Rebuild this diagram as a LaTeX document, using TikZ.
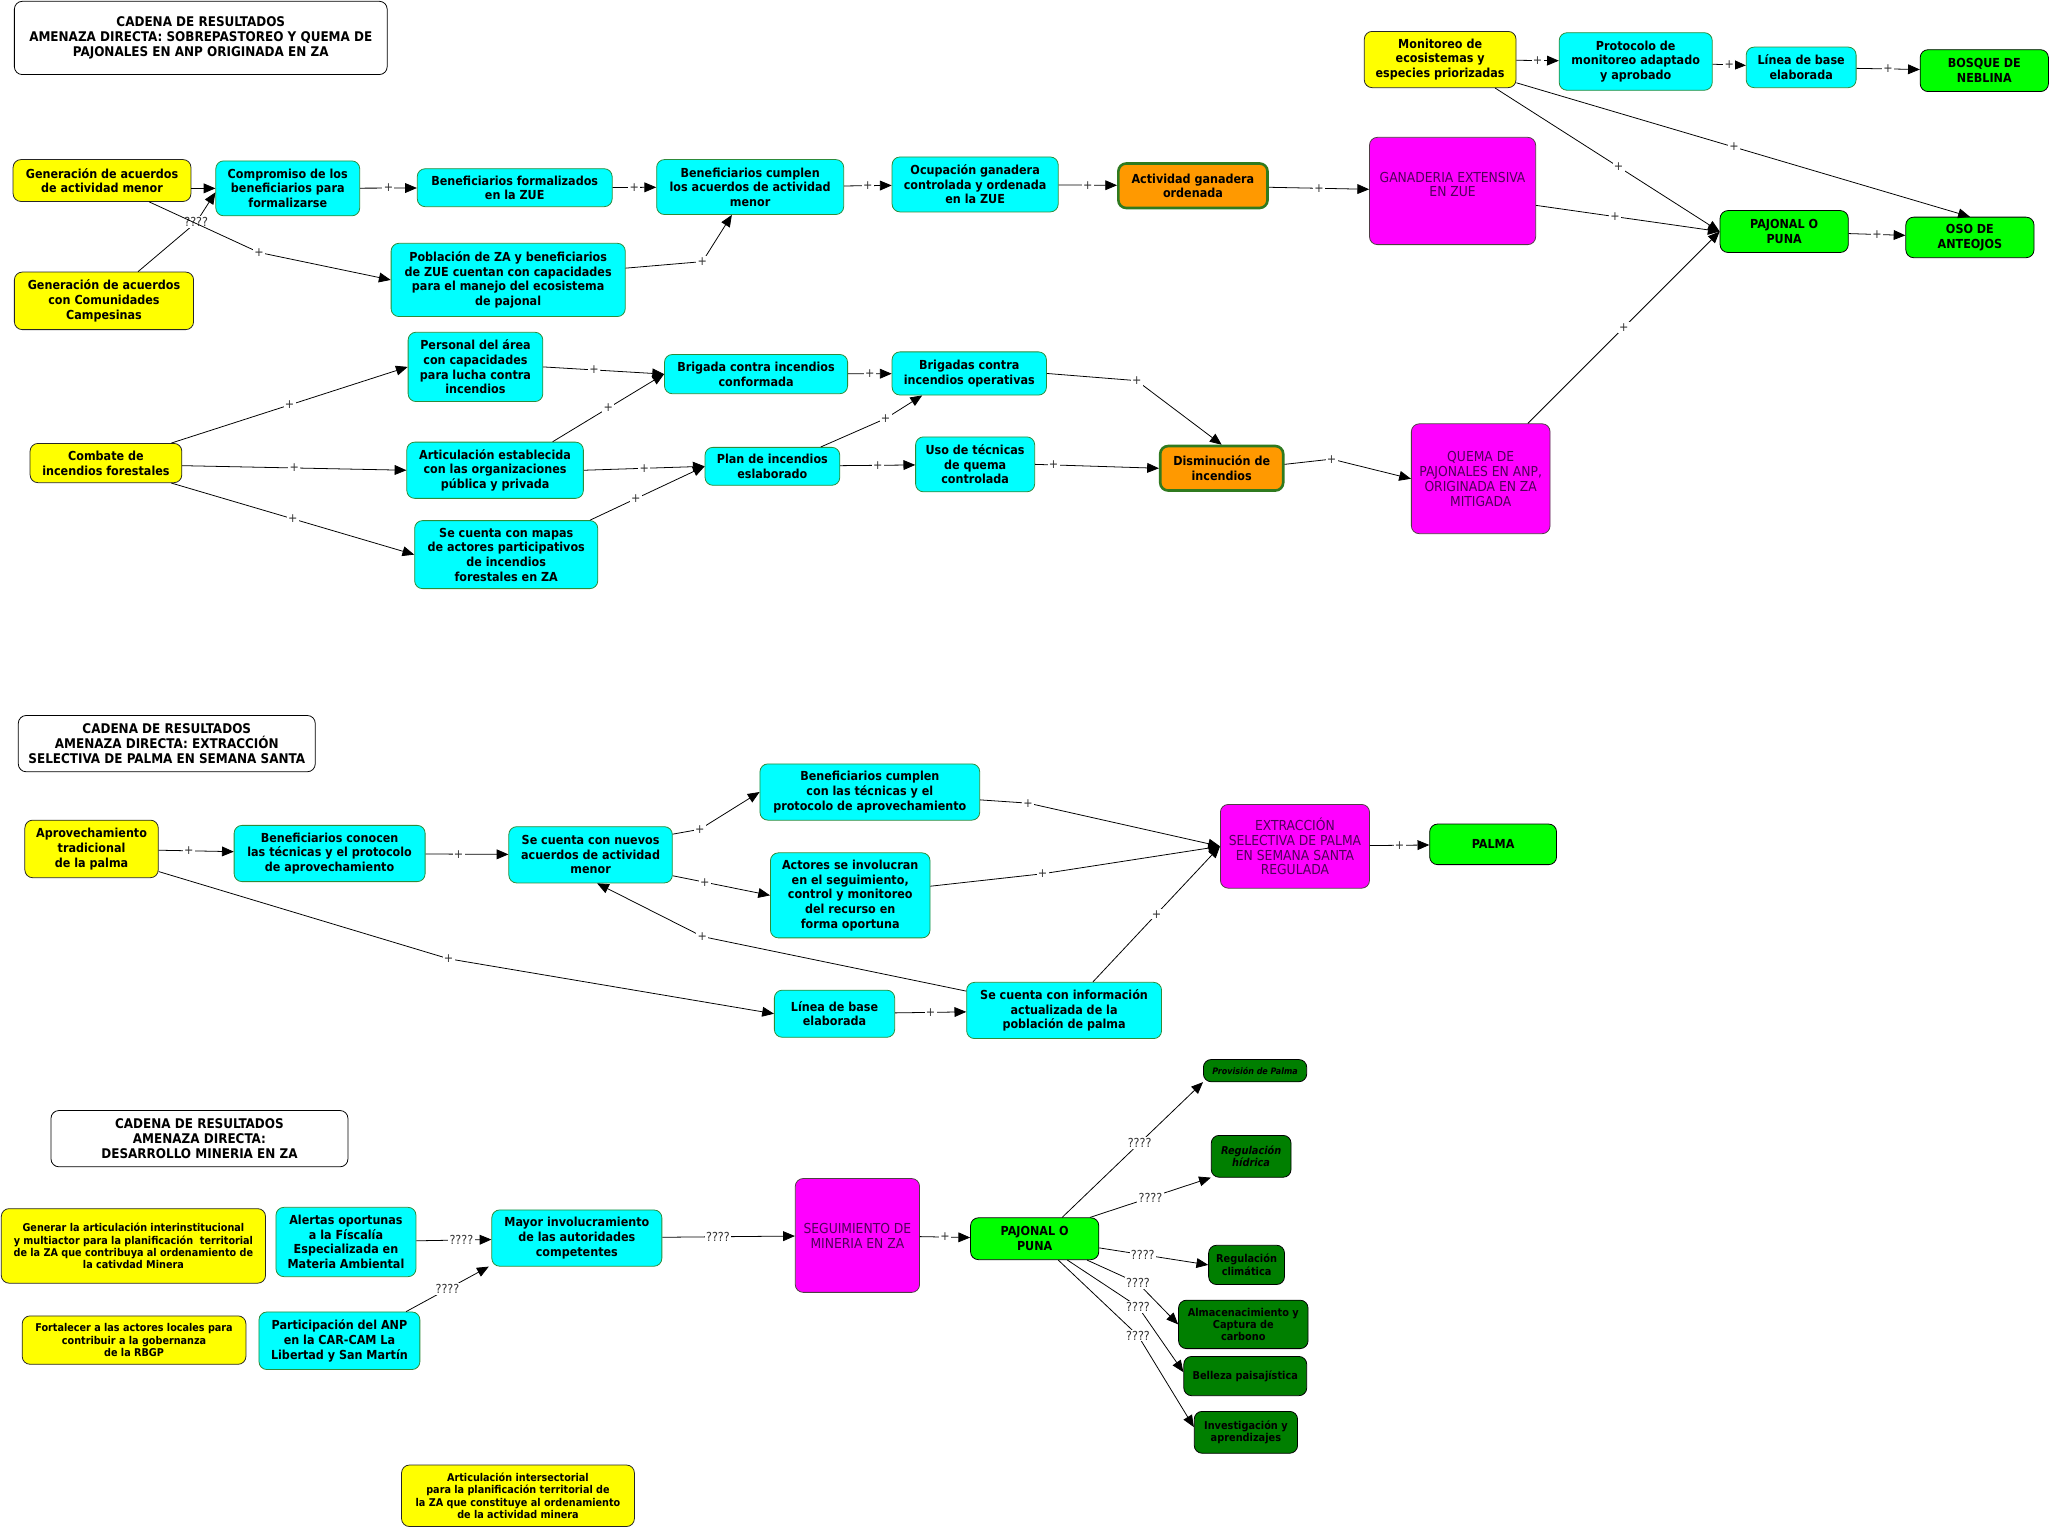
\documentclass[tikz,border=0pt]{standalone}
\usepackage{fontspec}
\setmainfont{DejaVu Sans Condensed}
\usepackage{tikz}
\usetikzlibrary{positioning,arrows.meta}

\definecolor{cyanfill}{HTML}{00FFFF}
\definecolor{cyanline}{HTML}{2E8B3A}
\definecolor{yelfill}{HTML}{FFFF00}
\definecolor{grnfill}{HTML}{00FF00}
\definecolor{dgrnfill}{HTML}{007F00}
\definecolor{orgfill}{HTML}{FF9900}
\definecolor{orgline}{HTML}{2F7A1F}
\definecolor{magfill}{HTML}{FF00FF}
\definecolor{magtext}{HTML}{50005A}

\begin{document}
\begin{tikzpicture}[x=1pt,y=-1pt,
  box/.style={rectangle,draw,rounded corners=6pt,line width=0.6pt,
              inner sep=1.5pt, align=center,
              font=\bfseries\fontsize{9.5}{11.2}\selectfont},
  ttl/.style={box, fill=white, draw=black,
              font=\bfseries\fontsize{10.2}{11.2}\selectfont},
  yel/.style={box, fill=yelfill, draw=black!85},
  cya/.style={box, fill=cyanfill, draw=cyanline},
  grn/.style={box, fill=grnfill, draw=black},
  dgrn/.style={box, fill=dgrnfill, draw=black,
               font=\bfseries\fontsize{8.3}{9.5}\selectfont},
  org/.style={box, fill=orgfill, draw=orgline, line width=2pt},
  mag/.style={box, fill=magfill, draw=black!80!magenta, text=magtext,
              font=\fontsize{10.5}{11.4}\selectfont},
  small/.style={font=\bfseries\fontsize{8.2}{9.3}\selectfont},
  arr/.style={-{Triangle[length=9pt,width=7.5pt]}, line width=0.6pt},
  lbl/.style={fill=white, inner sep=1pt, text=black!80,
              font=\fontsize{9.5}{10}\selectfont}
]
  \useasboundingbox (0,0) rectangle (1568,1168);

  % sobrepastoreo y quema de pajonales
  \node[ttl, minimum width=285, minimum height=56] (t1) at (153.5,29)
       {CADENA DE RESULTADOS\\AMENAZA DIRECTA: SOBREPASTOREO Y QUEMA DE\\PAJONALES EN ANP ORIGINADA EN ZA};
  \node[yel, minimum width=136, minimum height=32] (acmen) at (78,138) {Generación de acuerdos\\de actividad menor};
  \node[yel, minimum width=137, minimum height=44] (accom) at (79.5,230) {Generación de acuerdos\\con Comunidades\\Campesinas};
  \node[cya, minimum width=110, minimum height=42] (compr) at (220,144) {Compromiso de los\\beneficiarios para\\formalizarse};
  \node[cya, minimum width=149, minimum height=29] (benform) at (393.5,143.5) {Beneficiarios formalizados\\en la ZUE};
  \node[cya, minimum width=179, minimum height=56] (pobza) at (388.5,214) {Población de ZA y beneficiarios\\de ZUE cuentan con capacidades\\para el manejo del ecosistema\\de pajonal};
  \node[cya, minimum width=143, minimum height=42] (bencum) at (573.5,143) {Beneficiarios cumplen\\los acuerdos de actividad\\menor};
  \node[cya, minimum width=127, minimum height=42] (ocup) at (745.5,141) {Ocupación ganadera\\controlada y ordenada\\en la ZUE};
  \node[org, minimum width=114, minimum height=34] (actgan) at (912,142) {Actividad ganadera\\ordenada};
  \node[mag, minimum width=127, minimum height=82, text depth=10pt] (ganext) at (1110.5,146) {GANADERIA EXTENSIVA\\EN ZUE};
  \node[yel, minimum width=116, minimum height=43] (monit) at (1101,45.5) {Monitoreo de\\ecosistemas y\\especies priorizadas};
  \node[cya, minimum width=117, minimum height=44] (protoc) at (1250.5,47) {Protocolo de\\monitoreo adaptado\\y aprobado};
  \node[cya, minimum width=84, minimum height=31] (lbase) at (1377,51.5) {Línea de base\\elaborada};
  \node[grn, minimum width=98, minimum height=32] (bosque) at (1517,54) {BOSQUE DE\\NEBLINA};
  \node[grn, minimum width=98, minimum height=32] (pajon) at (1364,177) {PAJONAL O\\PUNA};
  \node[grn, minimum width=98, minimum height=31] (oso) at (1506,181.5) {OSO DE\\ANTEOJOS};
  \node[mag, minimum width=106, minimum height=84] (quema) at (1132,366) {QUEMA DE\\PAJONALES EN ANP,\\ORIGINADA EN ZA\\MITIGADA};

  \node[yel, minimum width=116, minimum height=30] (combate) at (81,354) {Combate de\\incendios forestales};
  \node[cya, minimum width=103, minimum height=53] (personal) at (363.5,280.5) {Personal del área\\con capacidades\\para lucha contra\\incendios};
  \node[cya, minimum width=135, minimum height=43] (artic) at (378.5,359.5) {Articulación establecida\\con las organizaciones\\pública y privada};
  \node[cya, minimum width=140, minimum height=52] (mapas) at (387,424) {Se cuenta con mapas\\de actores participativos\\de incendios\\forestales en ZA};
  \node[cya, minimum width=140, minimum height=30] (brigconf) at (578,286) {Brigada contra incendios\\conformada};
  \node[cya, minimum width=118, minimum height=33] (brigop) at (741,285.5) {Brigadas contra\\incendios operativas};
  \node[cya, minimum width=103, minimum height=29] (plan) at (590.5,356.5) {Plan de incendios\\eslaborado};
  \node[cya, minimum width=91, minimum height=42] (uso) at (745.5,355) {Uso de técnicas\\de quema\\controlada};
  \node[org, minimum width=94, minimum height=34] (dismin) at (934,358) {Disminución de\\incendios};

  \draw[arr] (acmen.east |- compr) -- (compr);
  \draw[arr] ([xshift=26]accom.north) -- (150,170) node[lbl]{????} -- ([yshift=-3]compr.west);
  \draw[arr] ([xshift=36]acmen.south) -- (198,193) node[lbl]{+} -- (pobza.west);
  \draw[arr] (compr) -- node[lbl]{+} (benform);
  \draw[arr] (benform) -- node[lbl]{+} (bencum);
  \draw[arr] ([yshift=9]pobza.east) -- (537,200) node[lbl]{+} -- ([xshift=-14]bencum.south);
  \draw[arr] (bencum) -- node[lbl]{+} (ocup);
  \draw[arr] (ocup) -- node[lbl]{+} (actgan);
  \draw[arr] (actgan) -- node[lbl]{+} (ganext);
  \draw[arr] ([yshift=-11]ganext.east) -- node[lbl, pos=0.43]{+} (pajon.west);
  \draw[arr] (monit) -- node[lbl]{+} (protoc);
  \draw[arr] (protoc) -- node[lbl]{+} (lbase);
  \draw[arr] (lbase) -- node[lbl]{+} (bosque);
  \draw[arr] ([xshift=42]monit.south) -- node[lbl, pos=0.55]{+} (pajon.west);
  \draw[arr] ([yshift=4]monit.south east) -- node[lbl, pos=0.48]{+} (oso.north);
  \draw[arr] (pajon) -- node[lbl]{+} (oso);
  \draw[arr] ([xshift=36]quema.north) -- node[lbl]{+} (pajon.west);
  \draw[arr] ([yshift=3]dismin.east) -- (1018,351) node[lbl]{+} -- (quema.west);

  \draw[arr] ([xshift=50]combate.north) -- node[lbl]{+} (personal.west);
  \draw[arr] ([yshift=-2]combate.east) -- node[lbl]{+} (artic.west);
  \draw[arr] ([xshift=50]combate.south) -- node[lbl]{+} (mapas.west);
  \draw[arr] (personal.east) -- node[lbl, pos=0.42]{+} (brigconf.west);
  \draw[arr] ([xshift=44]artic.north) -- node[lbl]{+} (brigconf.west);
  \draw[arr] (artic.east) -- node[lbl]{+} (plan.west);
  \draw[arr] ([xshift=64]mapas.north) -- node[lbl, pos=0.4]{+} (plan.west);
  \draw[arr] (brigconf) -- node[lbl]{+} (brigop);
  \draw[arr] ([xshift=37]plan.north) -- (677,320) node[lbl]{+} -- ([xshift=-36]brigop.south);
  \draw[arr] (plan) -- node[lbl]{+} (uso);
  \draw[arr] (brigop.east) -- (869,291) node[lbl]{+} -- (dismin.north);
  \draw[arr] (uso.east) -- node[lbl, pos=0.15]{+} (dismin.west);

  % extraccion selectiva de palma
  \node[ttl, minimum width=227, minimum height=43] (t2) at (127.5,568.5)
       {CADENA DE RESULTADOS\\AMENAZA DIRECTA: EXTRACCIÓN\\SELECTIVA DE PALMA EN SEMANA SANTA};
  \node[yel, minimum width=102, minimum height=44] (aprov) at (70,649) {Aprovechamiento\\tradicional\\de la palma};
  \node[cya, minimum width=146, minimum height=43] (benconoc) at (252,652.5) {Beneficiarios conocen\\las técnicas y el protocolo\\de aprovechamiento};
  \node[cya, minimum width=125, minimum height=43] (nuevos) at (451.5,653.5) {Se cuenta con nuevos\\acuerdos de actividad\\menor};
  \node[cya, minimum width=168, minimum height=43] (bentec) at (665,605.5) {Beneficiarios cumplen\\con las técnicas y el\\protocolo de aprovechamiento};
  \node[cya, minimum width=122, minimum height=65] (actores) at (650,684.5) {Actores se involucran\\en el seguimiento,\\control y monitoreo\\del recurso en\\forma oportuna};
  \node[mag, minimum width=114, minimum height=64] (extrac) at (990,647) {EXTRACCIÓN\\SELECTIVA DE PALMA\\EN SEMANA SANTA\\REGULADA};
  \node[grn, minimum width=97, minimum height=31] (palma) at (1141.5,645.5) {PALMA};
  \node[cya, minimum width=92, minimum height=36] (lbpalma) at (638,775) {Línea de base\\elaborada};
  \node[cya, minimum width=149, minimum height=43] (info) at (813.5,772.5) {Se cuenta con información\\actualizada de la\\población de palma};

  \draw[arr] (aprov) -- node[lbl, pos=0.4]{+} (benconoc);
  \draw[arr] (benconoc) -- node[lbl, pos=0.4]{+} (nuevos);
  \draw[arr] ([yshift=5]aprov.south east) -- (343,733) node[lbl]{+} -- (lbpalma.west);
  \draw[arr] ([yshift=-6]nuevos.north east) -- (535,634) node[lbl]{+} -- (bentec.west);
  \draw[arr] ([yshift=-16]nuevos.east) -- node[lbl, pos=0.33]{+} (actores.west);
  \draw[arr] ([yshift=-7]info.north west) -- (537,716) node[lbl]{+} -- ([xshift=5]nuevos.south);
  \draw[arr] (lbpalma) -- node[lbl]{+} (info);
  \draw[arr] ([yshift=-6]bentec.east) -- (786,614) node[lbl]{+} -- (extrac.west);
  \draw[arr] ([yshift=7]actores.east) -- (797,668) node[lbl]{+} -- (extrac.west);
  \draw[arr] ([xshift=22]info.north) -- node[lbl]{+} (extrac.west);
  \draw[arr] (extrac) -- node[lbl]{+} (palma);

  % desarrollo minero
  \node[ttl, minimum width=227, minimum height=43] (t3) at (152.5,870.5)
       {CADENA DE RESULTADOS\\AMENAZA DIRECTA:\\DESARROLLO MINERIA EN ZA};
  \node[yel, small, minimum width=202, minimum height=57] (generar) at (102,952.5)
       {Generar la articulación interinstitucional\\ y multiactor para la planificación\ \ territorial\\de la ZA que contribuya al ordenamiento de\\la cativdad Minera};
  \node[yel, small, minimum width=171, minimum height=37] (fortal) at (102.5,1024.5)
       {Fortalecer a las actores locales para\\contribuir a la gobernanza\\de la RBGP};
  \node[cya, minimum width=107, minimum height=53] (alertas) at (264.5,949.5) {Alertas oportunas\\a la Físcalía\\Especializada en\\Materia Ambiental};
  \node[cya, minimum width=123, minimum height=44] (partic) at (259.5,1025) {Participación del ANP\\en la CAR-CAM La\\Libertad y San Martín};
  \node[cya, minimum width=130, minimum height=43] (mayor) at (441,946.5) {Mayor involucramiento\\de las autoridades\\competentes};
  \node[yel, small, minimum width=178, minimum height=47] (intersec) at (396,1143.5)
       {Articulación intersectorial\\para la planificación territorial de\\la ZA que constituye al ordenamiento\\de la actividad minera};
  \node[mag, minimum width=95, minimum height=87] (seguim) at (655.5,944.5) {SEGUIMIENTO DE\\MINERIA EN ZA};
  \node[grn, minimum width=98, minimum height=32] (pajpuna) at (791,947) {PAJONAL O\\PUNA};
  \node[dgrn, minimum width=79, minimum height=17,
        font=\bfseries\itshape\fontsize{6.8}{7.5}\selectfont] (provis) at (959.5,818.5) {Provisión de Palma};
  \node[dgrn, minimum width=61, minimum height=32,
        font=\bfseries\itshape\fontsize{8.3}{9.7}\selectfont] (reghid) at (956.5,884) {Regulación\\hídrica};
  \node[dgrn, minimum width=58, minimum height=30] (regclim) at (953,967) {Regulación\\climática};
  \node[dgrn, minimum width=99, minimum height=37] (almac) at (950.5,1012.5) {Almacenacimiento y\\Captura de\\carbono};
  \node[dgrn, minimum width=94, minimum height=30] (belleza) at (952,1052) {Belleza paisajística};
  \node[dgrn, minimum width=79, minimum height=32] (invest) at (952.5,1095) {Investigación y\\aprendizajes};

  \draw[arr] (alertas) -- node[lbl, pos=0.6]{????} (mayor);
  \draw[arr] ([xshift=51]partic.north) -- node[lbl]{????} ([xshift=-2]mayor.south west);
  \draw[arr] (mayor) -- node[lbl, pos=0.42]{????} (seguim);
  \draw[arr] (seguim) -- node[lbl]{+} (pajpuna);
  \draw[arr] ([xshift=21]pajpuna.north) -- node[lbl, pos=0.55]{????} (provis.south west);
  \draw[arr] ([xshift=-7]pajpuna.north east) -- node[lbl]{????} (reghid.south west);
  \draw[arr] ([yshift=-7]pajpuna.east) -- node[lbl, pos=0.4]{????} (regclim.west);
  \draw[arr] ([xshift=40]pajpuna.south) -- (870,981) node[lbl]{????} -- (almac.west);
  \draw[arr] ([xshift=25]pajpuna.south) -- (870,999) node[lbl]{????} -- ([yshift=3]belleza.west);
  \draw[arr] ([xshift=18]pajpuna.south) -- (870,1021) node[lbl]{????} -- ([yshift=4]invest.west);
\end{tikzpicture}
\end{document}
